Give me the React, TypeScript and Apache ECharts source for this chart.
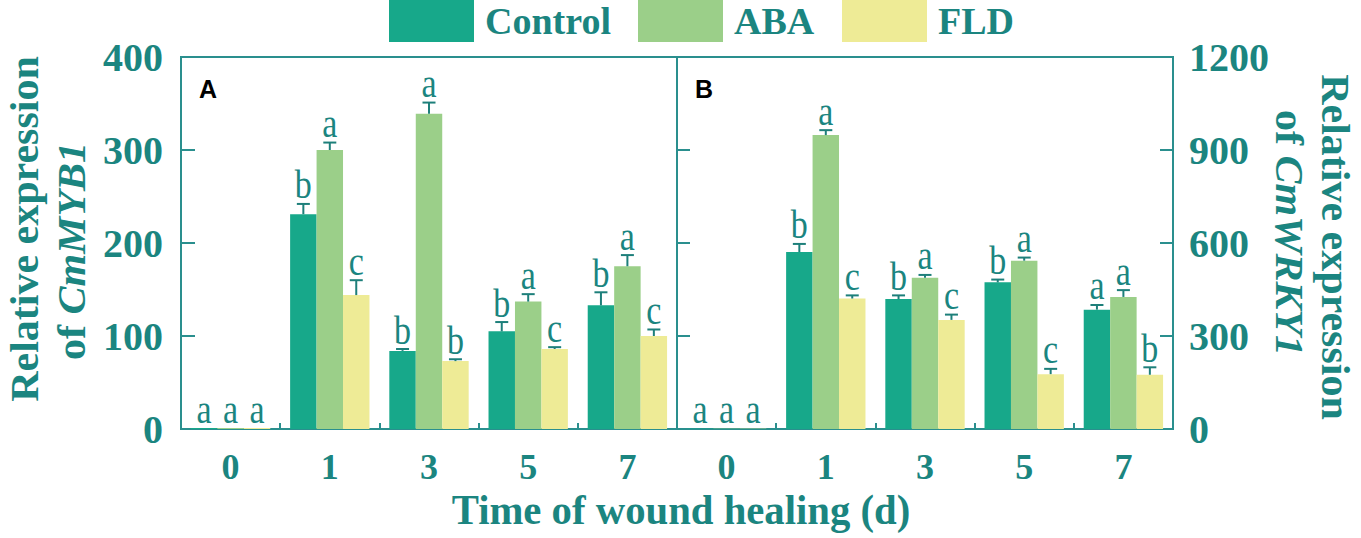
import React, { useEffect, useRef } from "react";
import * as echarts from "echarts";

const categories = ["0", "1", "3", "5", "7"];

// Panel A: CmMYB1
const mybControl = [1, 231, 84, 105, 133];
const mybControlErr = [0, 11, 2, 10, 14];
const mybControlSig = ["a", "b", "b", "b", "b"];
const mybABA = [1, 300, 339, 137, 175];
const mybABAErr = [0, 8, 12, 8, 12];
const mybABASig = ["a", "a", "a", "a", "a"];
const mybFLD = [1, 144, 73, 86, 100];
const mybFLDErr = [0, 16, 2, 2, 7];
const mybFLDSig = ["a", "c", "b", "c", "c"];

// Panel B: CmWRKY1
const wrkyControl = [1, 571, 419, 473, 385];
const wrkyControlErr = [0, 26, 12, 9, 15];
const wrkyControlSig = ["a", "b", "b", "b", "a"];
const wrkyABA = [1, 948, 488, 543, 426];
const wrkyABAErr = [0, 16, 9, 10, 22];
const wrkyABASig = ["a", "a", "a", "a", "a"];
const wrkyFLD = [1, 421, 352, 177, 175];
const wrkyFLDErr = [0, 10, 17, 17, 24];
const wrkyFLDSig = ["a", "c", "c", "c", "b"];

const yTicksA = [0, 100, 200, 300, 400];
const yTicksB = [0, 300, 600, 900, 1200];

const TEAL = "#1b8580";
const AXIS = "#2a8f8e";
const ERR = "#1d7f7a";
const C_CONTROL = "#17a88a";
const C_ABA = "#9bcf89";
const C_FLD = "#eeeb96";
const SERIF = "'Liberation Serif', 'Times New Roman', serif";
const CAT_GAP = 0.2;

function errSeries(
  name: string,
  values: number[],
  errs: number[],
  sig: string[],
  slot: number,
  axisIdx: number,
  yIdx: number
) {
  return {
    type: "custom",
    name,
    xAxisIndex: axisIdx,
    yAxisIndex: yIdx,
    z: 10,
    silent: true,
    data: values.map((v, i) => [i, v, errs[i]]),
    renderItem: (params: any, api: any) => {
      const ci = api.value(0);
      const v = api.value(1);
      const e = api.value(2);
      const base = api.coord([ci, v]);
      const top = api.coord([ci, v + e]);
      const band = api.size([1, 0])[0];
      const bw = (band * (1 - CAT_GAP)) / 3;
      const x = base[0] + (slot - 1) * bw;
      const children: any[] = [];
      if (e > 0) {
        children.push({
          type: "line",
          shape: { x1: x, y1: base[1], x2: x, y2: top[1] },
          style: { stroke: ERR, lineWidth: 2 },
        });
        children.push({
          type: "line",
          shape: { x1: x - 6.5, y1: top[1], x2: x + 6.5, y2: top[1] },
          style: { stroke: ERR, lineWidth: 2 },
        });
      }
      children.push({
        type: "text",
        x,
        y: top[1] + 1,
        scaleX: 0.85,
        style: {
          text: sig[params.dataIndex],
          fill: TEAL,
          font: `40px ${SERIF}`,
          textAlign: "center",
          textVerticalAlign: "bottom",
          verticalAlign: "bottom",
        },
      });
      return { type: "group", children };
    },
  };
}

function barSeries(name: string, values: number[], color: string, axisIdx: number, yIdx: number) {
  return {
    type: "bar",
    name,
    xAxisIndex: axisIdx,
    yAxisIndex: yIdx,
    data: values,
    barGap: "0%",
    barCategoryGap: CAT_GAP * 100 + "%",
    itemStyle: { color },
  };
}

export default function App() {
  const ref = useRef<HTMLDivElement>(null);

  useEffect(() => {
    document.body.style.margin = "0";
    const chart = echarts.init(ref.current!, null, { renderer: "svg" });

    const catAxis = (gridIndex: number) => ({
      type: "category",
      gridIndex,
      data: categories,
      boundaryGap: true,
      axisLine: { show: true, lineStyle: { color: AXIS, width: 2 } },
      axisTick: { show: true, inside: true, length: 6, lineStyle: { color: AXIS, width: 2 } },
      axisLabel: {
        color: TEAL,
        fontFamily: SERIF,
        fontWeight: "bold",
        fontSize: 36,
        margin: 20,
      },
      splitLine: { show: false },
    });

    const legendBase = {
      top: 0,
      padding: 0,
      itemWidth: 85,
      itemHeight: 42,
      icon: "rect",
      selectedMode: false,
      textStyle: {
        color: TEAL,
        fontFamily: SERIF,
        fontWeight: "bold",
        fontSize: 38,
        padding: [0, 0, 0, 6],
      },
    };

    const titleText = (x: number, y: number, rotation: number, text: string, rich?: any) => ({
      type: "text",
      x,
      y,
      rotation,
      scaleX: 1.05,
      style: {
        text,
        fill: TEAL,
        font: `bold 40px ${SERIF}`,
        lineHeight: 34,
        textAlign: "center",
        textVerticalAlign: "middle",
        verticalAlign: "middle",
        rich,
      },
    });

    const richGene = {
      n: { fill: TEAL, font: `bold 40px ${SERIF}`, lineHeight: 34 },
      i: { fill: TEAL, font: `italic bold 40px ${SERIF}`, lineHeight: 34 },
    };

    const option: any = {
      animation: false,
      backgroundColor: "#ffffff",
      legend: [
        { ...legendBase, left: 389, data: ["Control"] },
        { ...legendBase, left: 638, data: ["ABA"] },
        { ...legendBase, left: 842, data: ["FLD"] },
      ],
      grid: [
        { left: 181, top: 57, width: 496, height: 372, show: true, borderColor: AXIS, borderWidth: 2, backgroundColor: "transparent" },
        { left: 677, top: 57, width: 496, height: 372, show: true, borderColor: AXIS, borderWidth: 2, backgroundColor: "transparent" },
      ],
      xAxis: [catAxis(0), catAxis(1)],
      yAxis: [
        {
          type: "value",
          gridIndex: 0,
          position: "left",
          min: yTicksA[0],
          max: yTicksA[yTicksA.length - 1],
          interval: yTicksA[1] - yTicksA[0],
          axisLine: { show: true, lineStyle: { color: AXIS, width: 2 } },
          axisTick: { show: true, inside: true, length: 14, lineStyle: { color: AXIS, width: 2 } },
          axisLabel: { color: TEAL, fontFamily: SERIF, fontWeight: "bold", fontSize: 40, margin: 18, formatter: (v: number) => String(v) },
          splitLine: { show: false },
        },
        {
          type: "value",
          gridIndex: 1,
          position: "right",
          min: yTicksB[0],
          max: yTicksB[yTicksB.length - 1],
          interval: yTicksB[1] - yTicksB[0],
          axisLine: { show: true, lineStyle: { color: AXIS, width: 2 } },
          axisTick: { show: true, inside: true, length: 13, lineStyle: { color: AXIS, width: 2 } },
          axisLabel: { color: TEAL, fontFamily: SERIF, fontWeight: "bold", fontSize: 40, margin: 16, formatter: (v: number) => String(v) },
          splitLine: { show: false },
        },
        {
          type: "value",
          gridIndex: 1,
          position: "left",
          min: yTicksB[0],
          max: yTicksB[yTicksB.length - 1],
          interval: yTicksB[1] - yTicksB[0],
          axisLine: { show: true, lineStyle: { color: AXIS, width: 2 } },
          axisTick: { show: true, inside: true, length: 13, lineStyle: { color: AXIS, width: 2 } },
          axisLabel: { show: false },
          splitLine: { show: false },
        },
      ],
      graphic: [
        {
          type: "text",
          x: 199,
          y: 76,
          style: { text: "A", fill: "#000", font: "bold 25px 'Liberation Sans', Arial, sans-serif" },
        },
        {
          type: "text",
          x: 695,
          y: 76,
          style: { text: "B", fill: "#000", font: "bold 25px 'Liberation Sans', Arial, sans-serif" },
        },
        {
          type: "text",
          x: 681,
          y: 489,
          scaleX: 0.97,
          style: {
            text: "Time of wound healing (d)",
            fill: TEAL,
            font: `bold 42px ${SERIF}`,
            textAlign: "center",
            textVerticalAlign: "top",
            verticalAlign: "top",
          },
        },
        titleText(24, 229, Math.PI / 2, "Relative expression"),
        titleText(71, 251, Math.PI / 2, "{n|of }{i|CmMYB1}", richGene),
        titleText(1336, 247, -Math.PI / 2, "Relative expression"),
        titleText(1290, 233, -Math.PI / 2, "{n|of }{i|CmWRKY1}", richGene),
      ],
      series: [
        barSeries("Control", mybControl, C_CONTROL, 0, 0),
        barSeries("ABA", mybABA, C_ABA, 0, 0),
        barSeries("FLD", mybFLD, C_FLD, 0, 0),
        barSeries("Control", wrkyControl, C_CONTROL, 1, 1),
        barSeries("ABA", wrkyABA, C_ABA, 1, 1),
        barSeries("FLD", wrkyFLD, C_FLD, 1, 1),
        errSeries("Control error A", mybControl, mybControlErr, mybControlSig, 0, 0, 0),
        errSeries("ABA error A", mybABA, mybABAErr, mybABASig, 1, 0, 0),
        errSeries("FLD error A", mybFLD, mybFLDErr, mybFLDSig, 2, 0, 0),
        errSeries("Control error B", wrkyControl, wrkyControlErr, wrkyControlSig, 0, 1, 1),
        errSeries("ABA error B", wrkyABA, wrkyABAErr, wrkyABASig, 1, 1, 1),
        errSeries("FLD error B", wrkyFLD, wrkyFLDErr, wrkyFLDSig, 2, 1, 1),
      ],
    };

    chart.setOption(option);
    return () => chart.dispose();
  }, []);

  return <div ref={ref} style={{ width: 1361, height: 538 }} />;
}
